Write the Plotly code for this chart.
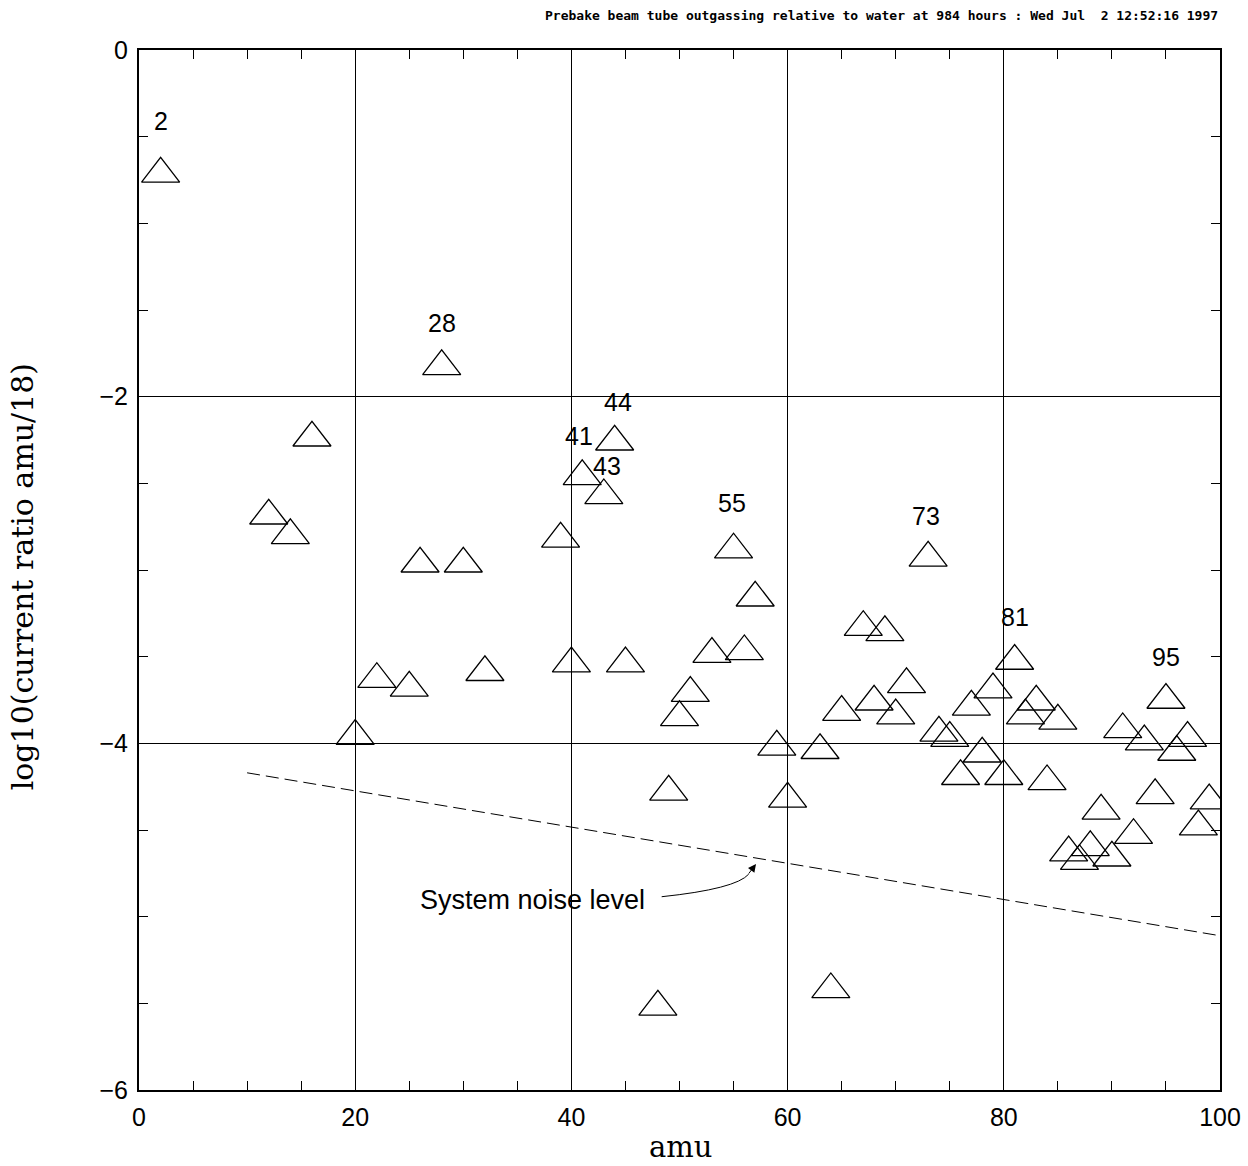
import plotly.graph_objects as go

# ---- data ----
amu = [2, 12, 14, 16, 20, 22, 25, 26, 28, 30,
       32, 39, 40, 41, 43, 44, 45, 48, 49, 50,
       51, 53, 55, 56, 57, 59, 60, 63, 64, 65,
       67, 68, 69, 70, 71, 73, 74, 75, 76, 77,
       78, 79, 80, 81, 82, 83, 84, 85, 86, 87,
       88, 89, 90, 91, 92, 93, 94, 95, 96, 97,
       98, 99]
log_ratio = [-0.715, -2.687, -2.80, -2.237, -3.958, -3.63, -3.68, -2.964, -1.825, -2.964,
             -3.59, -2.82, -3.54, -2.46, -2.57, -2.26, -3.54, -5.52, -4.28, -3.85,
             -3.71, -3.485, -2.883, -3.47, -3.16, -4.02, -4.32, -4.04, -5.42, -3.82,
             -3.33, -3.76, -3.36, -3.84, -3.66, -2.93, -3.94, -3.97, -4.19, -3.79,
             -4.06, -3.69, -4.19, -3.525, -3.84, -3.76, -4.22, -3.87, -4.63, -4.68,
             -4.60, -4.39, -4.66, -3.92, -4.53, -3.99, -4.30, -3.75, -4.05, -3.97,
             -4.48, -4.33]

noise_amu = [10, 100]
noise_level = [-4.17, -5.11]

label_text = ["2", "28", "41", "43", "44", "55", "73", "81", "95"]
label_x = [2, 28, 40.7, 43.3, 44.3, 54.9, 72.8, 81, 95]
label_y = [-0.41, -1.575, -2.227, -2.40, -2.03, -2.614, -2.689, -3.27, -3.50]

x_ticks = [0, 20, 40, 60, 80, 100]
y_ticks = [0, -2, -4, -6]

title_text = "Prebake beam tube outgassing relative to water at 984 hours : Wed Jul  2 12:52:16 1997"

fig = go.Figure()

fig.add_trace(go.Scatter(
    x=noise_amu, y=noise_level, mode="lines",
    line=dict(color="black", width=1, dash="13px,6px"),
    showlegend=False, hoverinfo="skip"))

fig.add_trace(go.Scatter(
    x=amu, y=log_ratio, mode="markers",
    marker=dict(symbol="triangle-up-open", size=33, color="black",
                line=dict(color="black", width=1.3)),
    showlegend=False))

for t, lx, ly in zip(label_text, label_x, label_y):
    fig.add_annotation(x=lx, y=ly, xref="x", yref="y", text=t, showarrow=False,
                       font=dict(family="Liberation Sans", size=25, color="black"),
                       xanchor="center", yanchor="middle")

# noise-level callout
fig.add_annotation(x=25.8, y=-4.904, xref="x", yref="y", text="System noise level",
                   showarrow=False, xanchor="left", yanchor="middle",
                   font=dict(family="Liberation Sans", size=27, color="black"))
fig.add_shape(type="path", xref="x", yref="y",
              path="M 48.35,-4.885 Q 55.2,-4.84 56.4,-4.755",
              line=dict(color="black", width=1))
fig.add_annotation(x=57.08, y=-4.696, ax=56.3, ay=-4.76, xref="x", yref="y",
                   axref="x", ayref="y", text="", showarrow=True,
                   arrowhead=2, arrowsize=1.6, arrowwidth=1, arrowcolor="black")

# title and axis titles
fig.add_annotation(x=1, y=1.0327, xref="paper", yref="paper",
                   text="<b>" + title_text.replace("  ", "&nbsp; ") + "</b>",
                   showarrow=False, xanchor="right", yanchor="middle",
                   font=dict(family="DejaVu Sans Mono", size=13, color="black"))
fig.add_annotation(x=0.5005, y=-0.0731, xref="paper", yref="paper", text="amu",
                   showarrow=False, xanchor="center", yanchor="bottom",
                   font=dict(family="DejaVu Serif", size=29, color="black"))
fig.add_annotation(x=-0.1082, y=0.493, xref="paper", yref="paper",
                   text="log10(current ratio amu/18)", textangle=-90,
                   showarrow=False, xanchor="center", yanchor="middle",
                   font=dict(family="DejaVu Serif", size=30, color="black"))

axis_common = dict(
    showline=True, linecolor="black", linewidth=2, mirror="ticks",
    showgrid=True, gridcolor="black", gridwidth=1, zeroline=False,
    ticks="inside", ticklen=9, tickcolor="black", tickwidth=1,
    tickfont=dict(family="Liberation Sans", size=25, color="black"),
)

fig.update_xaxes(range=[0, 100], tickmode="array", tickvals=x_ticks,
                 ticktext=[str(v) for v in x_ticks], ticklabelstandoff=4,
                 minor=dict(dtick=5, tick0=0, ticks="inside", ticklen=9, tickcolor="black",
                            tickwidth=1, showgrid=False),
                 **axis_common)
fig.update_yaxes(range=[-6, 0], tickmode="array", tickvals=y_ticks,
                 ticktext=["0" if v == 0 else "\u2212" + str(-v) for v in y_ticks],
                 ticklabelstandoff=4,
                 minor=dict(dtick=0.5, tick0=0, ticks="inside", ticklen=9, tickcolor="black",
                            tickwidth=1, showgrid=False),
                 **axis_common)

fig.update_layout(
    width=1248, height=1166,
    margin=dict(l=139, r=28, t=50, b=76, autoexpand=False),
    paper_bgcolor="white", plot_bgcolor="white",
    showlegend=False,
)

fig.write_html("out.html")
